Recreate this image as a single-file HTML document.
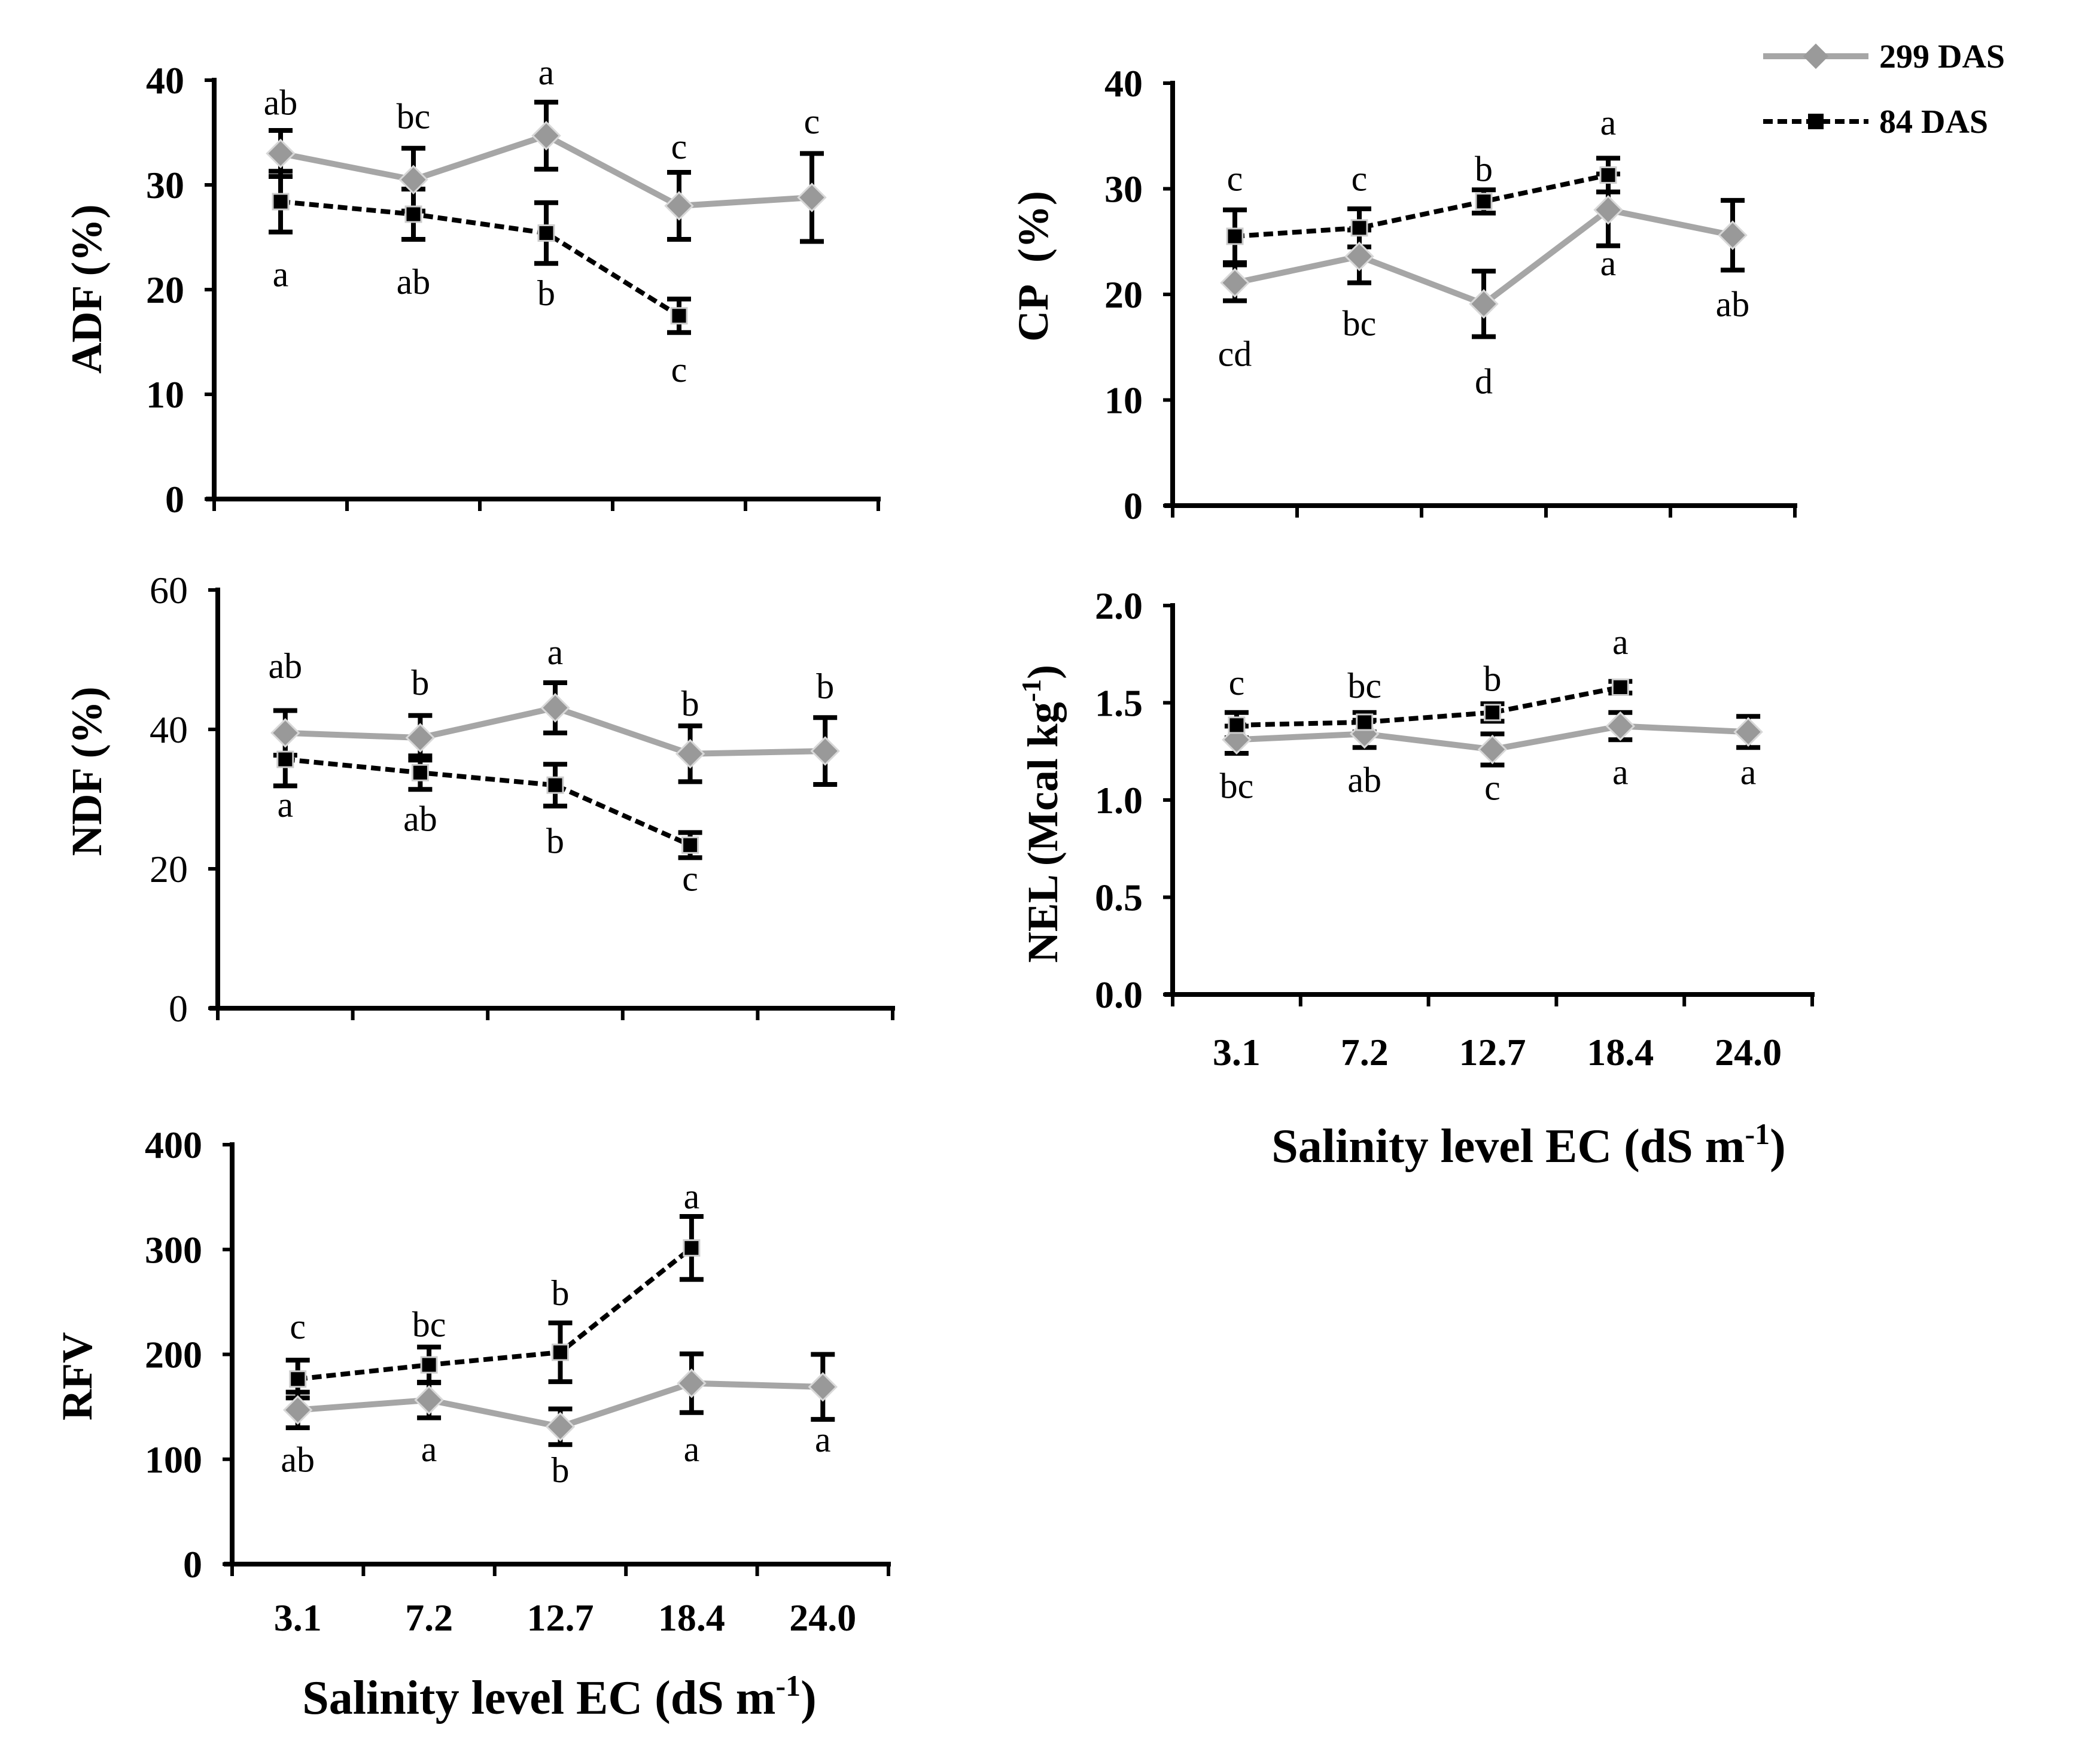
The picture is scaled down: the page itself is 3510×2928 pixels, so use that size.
<!DOCTYPE html>
<html><head><meta charset="utf-8">
<style>
html,body{margin:0;padding:0;background:#fff;}
svg{display:block;font-family:"Liberation Serif",serif;}
</style></head>
<body>
<svg id="fig" width="3510" height="2928" viewBox="0 0 3510 2928" xmlns="http://www.w3.org/2000/svg">
<g id="legend">
  <g>
    <line x1="2947" y1="94" x2="3123" y2="94" stroke="#a6a6a6" stroke-width="10"/>
    <rect x="3020" y="79" width="30" height="30" fill="#9a9a9a" transform="rotate(45 3035 94)"/>
    <text x="3141" y="113" font-size="56" font-weight="bold">299 DAS</text>
  </g>
  <g>
    <line x1="2947" y1="203" x2="3123" y2="203" stroke="#000" stroke-width="8" stroke-dasharray="16 8"/>
    <rect x="3022" y="190" width="26" height="26" fill="#000"/>
    <text x="3141" y="222" font-size="56" font-weight="bold">84 DAS</text>
  </g>
</g>
</svg>
<script>
// categories
const categories = ["3.1","7.2","12.7","18.4","24.0"];

// ADF
const adfTicks = [0,10,20,30,40];
const adf299 = [33.0,30.5,34.7,28.0,28.8];
const adf299Err = [2.2,3.0,3.2,3.2,4.2];
const adf84 = [28.4,27.2,25.4,17.5];
const adf84Err = [2.9,2.4,2.9,1.6];
const adfTopLetters = ["ab","bc","a","c","c"];
const adfTopLetterVals = [37.8,36.5,40.7,33.6,36.0];
const adfBotLetters = ["a","ab","b","c"];
const adfBotLetterVals = [21.4,20.7,19.6,12.3];

// CP
const cpTicks = [0,10,20,30,40];
const cp299 = [21.1,23.6,19.1,28.0,25.6];
const cp299Err = [1.7,2.5,3.1,3.4,3.3];
const cp84 = [25.5,26.3,28.8,31.3];
const cp84Err = [2.5,1.8,1.1,1.6];
const cpTopLetters = ["c","c","b","a"];
const cpTopLetterVals = [30.9,30.9,31.8,36.2];
const cpBotLetters = ["cd","bc","d","a","ab"];
const cpBotLetterVals = [14.3,17.2,11.7,22.9,19.0];

// NDF
const ndfTicks = [0,20,40,60];
const ndf299 = [39.5,38.8,43.1,36.5,36.9];
const ndf299Err = [3.2,3.2,3.6,4.0,4.8];
const ndf84 = [35.7,33.8,32.0,23.4];
const ndf84Err = [3.8,2.4,3.0,1.8];
const ndfTopLetters = ["ab","b","a","b","b"];
const ndfTopLetterVals = [49.0,46.6,51.0,43.6,46.1];
const ndfBotLetters = ["a","ab","b","c"];
const ndfBotLetterVals = [29.1,27.1,23.9,18.5];

// NEL
const nelTicks = [0,0.5,1.0,1.5,2.0];
const nel299 = [1.31,1.34,1.26,1.38,1.35];
const nel299Err = [0.07,0.07,0.08,0.07,0.08];
const nel84 = [1.385,1.40,1.45,1.58];
const nel84Err = [0.065,0.05,0.045,0.03];
const nelTopLetters = ["c","bc","b","a"];
const nelTopLetterVals = [1.60,1.585,1.62,1.81];
const nelBotLetters = ["bc","ab","c","a","a"];
const nelBotLetterVals = [1.07,1.10,1.06,1.14,1.14];

// RFV
const rfvTicks = [0,100,200,300,400];
const rfv299 = [147,156.5,131,172.5,169];
const rfv299Err = [17,17,17,28,31];
const rfv84 = [176.5,190,202,301.5];
const rfv84Err = [18,17,28,30];
const rfvTopLetters = ["c","bc","b","a"];
const rfvTopLetterVals = [226,228,258,350];
const rfvBotLetters = ["ab","a","b","a","a"];
const rfvBotLetterVals = [99,109,89,109,118];

const NS = "http://www.w3.org/2000/svg";
const svg = document.getElementById("fig");
function mk(tag, attrs, parent){
  const e = document.createElementNS(NS, tag);
  for (const k in attrs) e.setAttribute(k, attrs[k]);
  (parent||svg).appendChild(e);
  return e;
}

function panel(p){
  const g = mk("g", {});
  
  
  const ymin = p.ticks[0], ymax = p.ticks[p.ticks.length-1];
  const yS = v => p.y0 - (v - ymin) / (ymax - ymin) * (p.y0 - p.yTop);
  const step = (p.x1 - p.x0) / categories.length;
  const xS = i => p.x0 + step * (i + 0.5);

  const ax = mk("line", {x1:p.x0, y1:p.yTop-4, x2:p.x0, y2:p.y0+4, stroke:"#000","stroke-width":8}, g);
  
  
  const xa = mk("line", {x1:p.x0-14, y1:p.y0, x2:p.x1+4, y2:p.y0, stroke:"#000","stroke-width":8}, g);
  
  
  for (let i=0;i<=categories.length;i++){
    const x = p.x0 + step*i;
    mk("line",{x1:x,y1:p.y0,x2:x,y2:p.y0+20,stroke:"#000","stroke-width":6},g);
  }
  p.ticks.forEach(t=>{
    const y = yS(t);
    mk("line",{x1:p.x0-16,y1:y,x2:p.x0,y2:y,stroke:"#000","stroke-width":6},g);
    const tl = mk("text",{x:p.x0-50,y:y+22,"font-size":64,"font-weight":p.tickBold?"bold":"normal","text-anchor":"end"},g);
    tl.textContent = p.tickFmt ? t.toFixed(1) : String(t);
    
    
  });
  const yt = mk("text",{x:0,y:0,"font-size":72,"font-weight":"bold","text-anchor":"middle",transform:`translate(${p.titleX+24},${p.titleY}) rotate(-90)`},g);
  yt.innerHTML = p.title;
  
  

  if (p.xLabels){
    categories.forEach((c,i)=>{
      const t = mk("text",{x:xS(i),y:p.xLabelY,"font-size":64,"font-weight":"bold","text-anchor":"middle"},g);
      t.textContent = c;
      
      
    });
    const xt = mk("text",{x:p.xTitleX,y:p.xTitleY,"font-size":80,"font-weight":"bold","text-anchor":"middle"},g);
    xt.innerHTML = 'Salinity level EC (dS m<tspan dy="-30" font-size="50">-1</tspan><tspan dy="30">)</tspan>';
    
    
  }

  const pts299 = p.s299.map((v,i)=>`${xS(i)},${yS(v)}`).join(" ");
  const l1 = mk("polyline",{points:pts299,fill:"none",stroke:"#a6a6a6","stroke-width":10},g);
  
  
  const pts84 = p.s84.map((v,i)=>`${xS(i)},${yS(v)}`).join(" ");
  const l2 = mk("polyline",{points:pts84,fill:"none",stroke:"#000","stroke-width":8,"stroke-dasharray":"16 8"},g);
  
  

  function errbar(x, v, e, nm){
    const eg = mk("g",{stroke:"#000","stroke-width":8},g);
    
    
    const t = yS(v+e), b = yS(v-e);
    mk("line",{x1:x,y1:t,x2:x,y2:b},eg);
    mk("line",{x1:x-20,y1:t,x2:x+20,y2:t},eg);
    mk("line",{x1:x-20,y1:b,x2:x+20,y2:b},eg);
  }
  p.s299.forEach((v,i)=>errbar(xS(i),v,p.e299[i],p.name+'-errorbar-299'));
  p.s84.forEach((v,i)=>errbar(xS(i),v,p.e84[i],p.name+'-errorbar-84'));

  p.s299.forEach((v,i)=>{
    const x=xS(i), y=yS(v);
    const m = mk("rect",{x:x-16,y:y-16,width:32,height:32,fill:"#999",stroke:"#d8d8d8","stroke-width":3,transform:`rotate(45 ${x} ${y})`},g);
    
    
  });
  p.s84.forEach((v,i)=>{
    const x=xS(i), y=yS(v);
    const m = mk("rect",{x:x-13,y:y-13,width:26,height:26,fill:"#000",stroke:"#ccc","stroke-width":3},g);
    
    
  });

  function letters(arr, vals){
    arr.forEach((s,i)=>{
      const t = mk("text",{x:xS(i),y:yS(vals[i])+19,"font-size":60,"text-anchor":"middle"},g);
      t.textContent = s;
      
      
    });
  }
  letters(p.topL, p.topV);
  letters(p.botL, p.botV);
}

panel({name:"adf",x0:358,x1:1468,y0:834,yTop:134,ticks:adfTicks,tickBold:true,
  title:"ADF (%)",titleX:145,titleY:483,
  s299:adf299,e299:adf299Err,s84:adf84,e84:adf84Err,
  topL:adfTopLetters,topV:adfTopLetterVals,botL:adfBotLetters,botV:adfBotLetterVals});
panel({name:"cp",x0:1960,x1:3000,y0:845,yTop:139,ticks:cpTicks,tickBold:true,
  title:"CP&#160;&#160;(%)",titleX:1727,titleY:445,
  s299:cp299,e299:cp299Err,s84:cp84,e84:cp84Err,
  topL:cpTopLetters,topV:cpTopLetterVals,botL:cpBotLetters,botV:cpBotLetterVals});
panel({name:"ndf",x0:364,x1:1492,y0:1685,yTop:986,ticks:ndfTicks,tickBold:false,
  title:"NDF (%)",titleX:145,titleY:1289,
  s299:ndf299,e299:ndf299Err,s84:ndf84,e84:ndf84Err,
  topL:ndfTopLetters,topV:ndfTopLetterVals,botL:ndfBotLetters,botV:ndfBotLetterVals});
panel({name:"nel",x0:1960,x1:3029,y0:1662,yTop:1012,ticks:nelTicks,tickBold:true,tickFmt:true,
  title:'NEL (Mcal kg<tspan dy="-28" font-size="46">-1</tspan><tspan dy="28">)</tspan>',titleX:1743,titleY:1360,
  s299:nel299,e299:nel299Err,s84:nel84,e84:nel84Err,
  topL:nelTopLetters,topV:nelTopLetterVals,botL:nelBotLetters,botV:nelBotLetterVals,
  xLabels:true,xLabelY:1780,xTitleX:2555,xTitleY:1942});
panel({name:"rfv",x0:388,x1:1485,y0:2614,yTop:1913,ticks:rfvTicks,tickBold:true,
  title:"RFV",titleX:129,titleY:2300,
  s299:rfv299,e299:rfv299Err,s84:rfv84,e84:rfv84Err,
  topL:rfvTopLetters,topV:rfvTopLetterVals,botL:rfvBotLetters,botV:rfvBotLetterVals,
  xLabels:true,xLabelY:2725,xTitleX:935,xTitleY:2864});
</script>
</body></html>
